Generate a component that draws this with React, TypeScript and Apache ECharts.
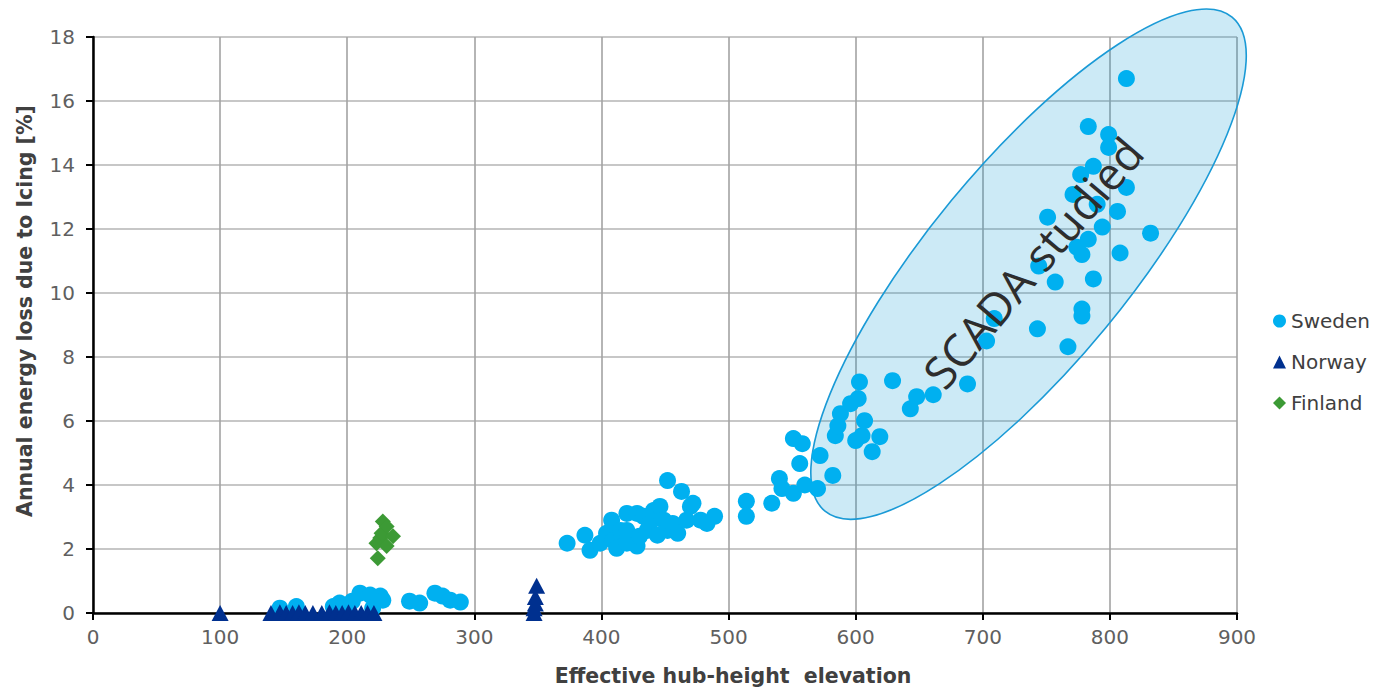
import React, { useEffect, useRef } from "react";
import * as echarts from "echarts";

// Effective hub-height elevation (x) vs annual energy loss due to icing [%] (y)
const sweden: [number, number][] = [
  [147, 0.15], [160, 0.2], [189, 0.2], [194, 0.31], [200, 0.25], [204, 0.37], [210, 0.62],
  [218, 0.56], [220, 0.15], [226, 0.53], [228, 0.4], [249, 0.37], [257, 0.31], [269, 0.62],
  [275, 0.53], [281, 0.4], [289, 0.34],
  [373, 2.18], [387, 2.43], [391, 1.96], [399, 2.18], [404, 2.49], [408, 2.9], [409, 2.27],
  [412, 2.02], [415, 2.58], [420, 2.18], [420, 2.58], [420, 3.11], [428, 2.09], [428, 3.11],
  [430, 2.4], [433, 3.02], [436, 2.58], [438, 2.8], [441, 3.2], [444, 2.43], [446, 3.33],
  [449, 2.9], [452, 4.14], [452, 2.58], [456, 2.8], [460, 2.49], [463, 3.8], [467, 2.9],
  [470, 3.33], [472, 3.43], [478, 2.9], [483, 2.8], [489, 3.02],
  [514, 3.49], [514, 3.02], [534, 3.43], [540, 4.2], [542, 3.89], [551, 3.74], [551, 5.45],
  [558, 5.29], [556, 4.67], [560, 4.0], [570, 3.89], [572, 4.92], [582, 4.3],
  [584, 5.54], [586, 5.85], [588, 6.23], [596, 6.54], [600, 5.39], [602, 6.7], [603, 7.22],
  [605, 5.54], [607, 6.01], [613, 5.04], [619, 5.51], [629, 7.26], [643, 6.38], [648, 6.76],
  [661, 6.82], [688, 7.16], [703, 8.5], [709, 9.2],
  [743, 8.88], [744, 10.84], [751, 12.37], [757, 10.34], [767, 8.32], [771, 13.08], [774, 11.43],
  [777, 13.7], [778, 11.2], [778, 9.5], [778, 9.28], [783, 15.2], [783, 11.68], [787, 13.96],
  [787, 10.44], [790, 12.77], [794, 12.06], [799, 14.95], [799, 14.55], [806, 12.55],
  [808, 11.25], [813, 16.7], [813, 13.3], [832, 11.87],
];

const norway: [number, number][] = [
  [100, 0], [140, 0], [147, 0.02], [152, 0], [157, 0], [162, 0.02], [167, 0], [173, 0],
  [180, 0], [186, 0.02], [191, 0], [196, 0], [201, 0.02], [206, 0], [211, 0], [216, 0],
  [221, 0], [347, 0], [347, 0.15], [348, 0.3], [348, 0.5], [349, 0.85],
];

const finland: [number, number][] = [
  [223, 2.18], [224, 1.71], [226, 2.34], [227, 2.49], [228, 2.86], [231, 2.7], [231, 2.09], [236, 2.4],
];

const seriesNames = ["Sweden", "Norway", "Finland"];
const xAxisTitle = "Effective hub-height  elevation";
const yAxisTitle = "Annual energy loss due to Icing [%]";
const annotationText = "SCADA studied";
const ellipseCenter: [number, number] = [736, 10.9];

export default function App() {
  const ref = useRef<HTMLDivElement>(null);
  useEffect(() => {
    if (!ref.current) return;
    const chart = echarts.init(ref.current, undefined, { renderer: "svg" });
    const labelFont = "DejaVu Sans, Verdana, sans-serif";
    const option: any = {
      animation: false,
      backgroundColor: "#ffffff",
      grid: { left: 93, right: 138, top: 37, bottom: 76, containLabel: false },
      xAxis: {
        type: "value",
        min: 0,
        max: 900,
        interval: 100,
        name: xAxisTitle,
        nameLocation: "middle",
        nameGap: 52,
        nameTextStyle: {
          fontFamily: labelFont,
          fontWeight: "bold",
          fontSize: 20.5,
          color: "#404040",
          padding: [0, 0, 0, 136],
        },
        axisLine: { show: true, onZero: false, lineStyle: { color: "#000", width: 2.5 } },
        axisTick: { show: true, length: 7, lineStyle: { color: "#000", width: 2 } },
        axisLabel: { fontFamily: labelFont, fontSize: 20, color: "#606060", margin: 14 },
        splitLine: { show: true, lineStyle: { color: "#a3a3a3", width: 1.6 } },
      },
      yAxis: {
        type: "value",
        min: 0,
        max: 18,
        interval: 2,
        name: yAxisTitle,
        nameLocation: "middle",
        nameGap: 58,
        nameRotate: 90,
        nameTextStyle: {
          fontFamily: labelFont,
          fontWeight: "bold",
          fontSize: 20.5,
          color: "#404040",
          padding: [0, 0, 0, 28],
        },
        axisLine: { show: true, onZero: false, lineStyle: { color: "#000", width: 2.5 } },
        axisTick: { show: true, length: 7, lineStyle: { color: "#000", width: 2 } },
        axisLabel: { fontFamily: labelFont, fontSize: 20, color: "#606060", margin: 18 },
        splitLine: { show: true, lineStyle: { color: "#b5b5b5", width: 1.6 } },
      },
      legend: {
        data: seriesNames,
        orient: "vertical",
        left: 1268,
        top: 306,
        itemWidth: 13,
        itemHeight: 13,
        itemGap: 21,
        textStyle: { fontFamily: labelFont, fontSize: 20, color: "#404040" },
      },
      series: [
        {
          name: seriesNames[0],
          type: "scatter",
          symbol: "circle",
          symbolSize: 17,
          itemStyle: { color: "#00b0f0", opacity: 1 },
          data: sweden,
          z: 3,
        },
        {
          name: seriesNames[1],
          type: "scatter",
          symbol: "triangle",
          symbolSize: [17, 16],
          itemStyle: { color: "#00308f", opacity: 1 },
          data: norway,
          z: 4,
        },
        {
          name: seriesNames[2],
          type: "scatter",
          symbol: "diamond",
          symbolSize: 16,
          itemStyle: { color: "#3c9a35", opacity: 1 },
          data: finland,
          z: 4,
        },
      ],
    };
    chart.setOption(option);
    const c = chart.convertToPixel({ gridIndex: 0 }, ellipseCenter) as number[];
    const rot = (50.5 * Math.PI) / 180;
    chart.setOption({
      graphic: [
        {
          type: "ellipse",
          x: c[0],
          y: c[1],
          rotation: rot,
          z: 1,
          shape: { cx: 0, cy: 0, rx: 320, ry: 100 },
          style: { fill: "rgba(0,150,210,0.2)", stroke: "#1a9ad6", lineWidth: 1.6 },
        },
        {
          type: "text",
          x: c[0] + 4,
          y: c[1] - 2,
          rotation: (49.7 * Math.PI) / 180,
          z: 10,
          style: {
            text: annotationText,
            fontFamily: "Open Sans, sans-serif",
            fontSize: 45,
            fill: "#2d2d2d",
            align: "center",
            verticalAlign: "middle",
          },
        },
      ],
    });
    return () => chart.dispose();
  }, []);
  return (
    <div
      ref={ref}
      style={{ position: "absolute", left: 0, top: 0, width: 1375, height: 691 }}
    />
  );
}
